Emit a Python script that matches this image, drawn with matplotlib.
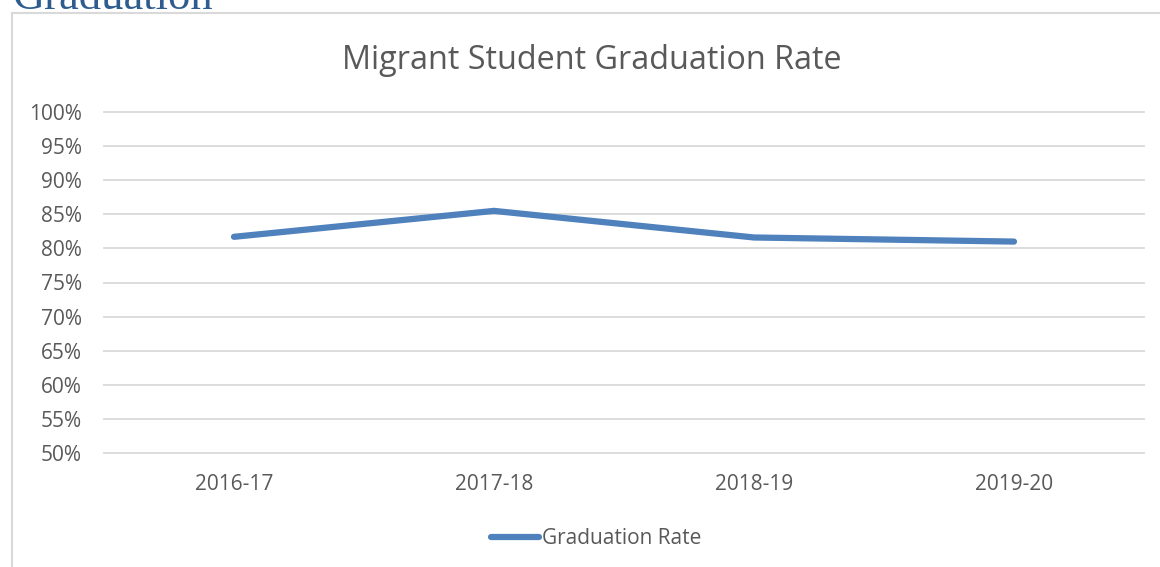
import matplotlib.pyplot as plt
from matplotlib.lines import Line2D

years = ['2016-17', '2017-18', '2018-19', '2019-20']
grad_rate = [81.7, 85.5, 81.6, 81.0]
y_ticks = [50, 55, 60, 65, 70, 75, 80, 85, 90, 95, 100]

W, H = 1160, 567
fig = plt.figure(figsize=(W / 100, H / 100), dpi=100)
plt.rcParams['font.family'] = ['Open Sans', 'DejaVu Sans']

# chart frame (cropped on right and bottom)
fig.add_artist(Line2D([11.5 / W, 11.5 / W], [0, 1 - 12.5 / H], color='#D9D9D9', lw=1.5))
fig.add_artist(Line2D([11.5 / W, 1], [1 - 12.5 / H, 1 - 12.5 / H], color='#D9D9D9', lw=1.5))

# page heading peeking in at the top
fig.text(12 / W, 1 - 9 / H, 'Graduation', family=['Liberation Serif'], fontsize=32,
         color='#2F5C8F', va='baseline', ha='left')

ax = fig.add_axes([104 / W, 1 - 453 / H, 1040 / W, 341 / H])
x = range(len(years))
ax.plot(x, grad_rate, color='#4F81BD', lw=4.5, solid_capstyle='round',
        solid_joinstyle='round', label='Graduation Rate')
ax.set_xlim(-0.5, len(years) - 0.5)
ax.set_ylim(50, 100)
ax.set_yticks(y_ticks)
ax.set_yticklabels([f'{v}%' for v in y_ticks])
ax.set_xticks(list(x))
ax.set_xticklabels(years)
for v in y_ticks:
    ax.axhline(v, color='#D9D9D9', lw=1.3, zorder=0, clip_on=False)
for s in ax.spines.values():
    s.set_visible(False)
ax.tick_params(length=0, colors='#595959', labelsize=15)
ax.tick_params(axis='y', pad=16)
ax.tick_params(axis='x', pad=15)

fig.text(592 / W, 1 - 61 / H, 'Migrant Student Graduation Rate', ha='center', va='center',
         fontsize=23.3, color='#595959')

fig.legend(loc='center', bbox_to_anchor=(596 / W, 1 - 539 / H), frameon=False,
           fontsize=15, labelcolor='#595959', handlelength=2.3, handletextpad=0.15)

fig.savefig('out.png', dpi=100)
